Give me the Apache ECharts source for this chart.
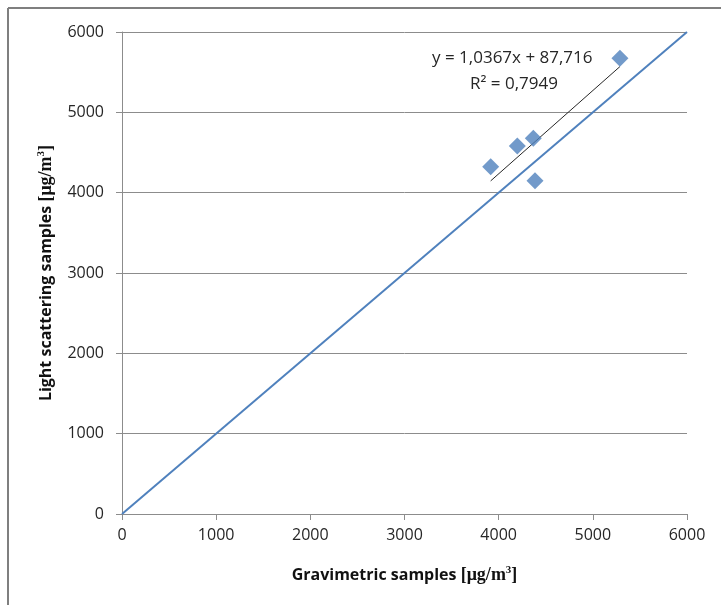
<!DOCTYPE html>
<html><head><meta charset="utf-8">
<script src="https://cdn.jsdelivr.net/npm/echarts@6/dist/echarts.min.js"></script>
<style>html,body{margin:0;padding:0;background:#fff}#c{width:721px;height:605px}</style>
</head><body><div id="c"></div>
<script>
var gravimetric = [3915, 4198, 4368, 4386, 5288];
var lightScattering = [4323, 4581, 4677, 4149, 5673];
var identityLine = [[0, 0], [6000, 6000]];
var trendSlope = 1.0367, trendIntercept = 87.716;
var trendText = ['y = 1,0367x + 87,716', 'R² = 0,7949'];
var axisTicks = [0, 1000, 2000, 3000, 4000, 5000, 6000];

var xmin = Math.min.apply(null, gravimetric), xmax = Math.max.apply(null, gravimetric);
var trendData = [[xmin, trendSlope * xmin + trendIntercept], [xmax, trendSlope * xmax + trendIntercept]];
var points = gravimetric.map(function (x, i) { return [x, lightScattering[i]]; });

var chart = echarts.init(document.getElementById('c'));
var sans = '"Open Sans", "Liberation Sans", sans-serif';
var tickFont = {color: '#262626', fontSize: 16, fontFamily: sans};
var richTitle = {
  a: {fontFamily: sans, fontWeight: 'bold', fontSize: 16, color: '#111'},
  b: {fontFamily: '"Liberation Serif", "DejaVu Serif", serif', fontWeight: 'bold', fontSize: 18, color: '#111'},
  s: {fontFamily: '"Liberation Serif", serif', fontWeight: 'bold', fontSize: 11, color: '#111', verticalAlign: 'top', padding: [0, 0, 9, 0]}
};
chart.setOption({
  animation: false,
  grid: {left: 122, right: 34, top: 32, bottom: 91},
  graphic: [
    {type: 'line', shape: {x1: 8, y1: 8, x2: 721, y2: 8}, style: {stroke: '#7f7f7f', lineWidth: 2}},
    {type: 'line', shape: {x1: 8, y1: 8, x2: 8, y2: 605}, style: {stroke: '#7f7f7f', lineWidth: 2}},
    {type: 'text', left: 432, top: 50, style: {text: trendText[0], fontSize: 17, fill: '#262626', fontFamily: sans}},
    {type: 'text', left: 470, top: 76, style: {text: trendText[1], fontSize: 17, fill: '#262626', fontFamily: sans}}
  ],
  xAxis: {
    type: 'value', min: 0, max: 6000, interval: 1000,
    axisLine: {show: true, lineStyle: {color: '#8c8c8c'}},
    axisTick: {show: true, length: 6, lineStyle: {color: '#8c8c8c'}},
    splitLine: {show: false},
    axisLabel: Object.assign({margin: 13, formatter: function (v) { return axisTicks.indexOf(v) >= 0 ? String(v) : ''; }}, tickFont),
    name: '{a|Gravimetric samples }{b|[μg/m}{s|3}{b|]}',
    nameLocation: 'middle', nameGap: 51,
    nameTextStyle: {rich: richTitle}
  },
  yAxis: {
    type: 'value', min: 0, max: 6000, interval: 1000,
    axisLine: {show: true, lineStyle: {color: '#8c8c8c'}},
    axisTick: {show: true, length: 6, lineStyle: {color: '#8c8c8c'}},
    splitLine: {show: true, lineStyle: {color: '#8c8c8c', width: 1}},
    axisLabel: Object.assign({margin: 18, formatter: function (v) { return axisTicks.indexOf(v) >= 0 ? String(v) : ''; }}, tickFont),
    name: '{a|Light scattering samples }{b|[μg/m}{s|3}{b|]}',
    nameLocation: 'middle', nameGap: 66,
    nameTextStyle: {rich: richTitle}
  },
  series: [
    {type: 'line', data: identityLine, symbol: 'none', lineStyle: {color: '#4F81BD', width: 2}, z: 2},
    {type: 'line', data: trendData, symbol: 'none', lineStyle: {color: '#262626', width: 1}, z: 3},
    {type: 'scatter', data: points, symbol: 'diamond', symbolSize: 17, itemStyle: {color: '#4F81BD'}, z: 4}
  ]
});
</script></body></html>
